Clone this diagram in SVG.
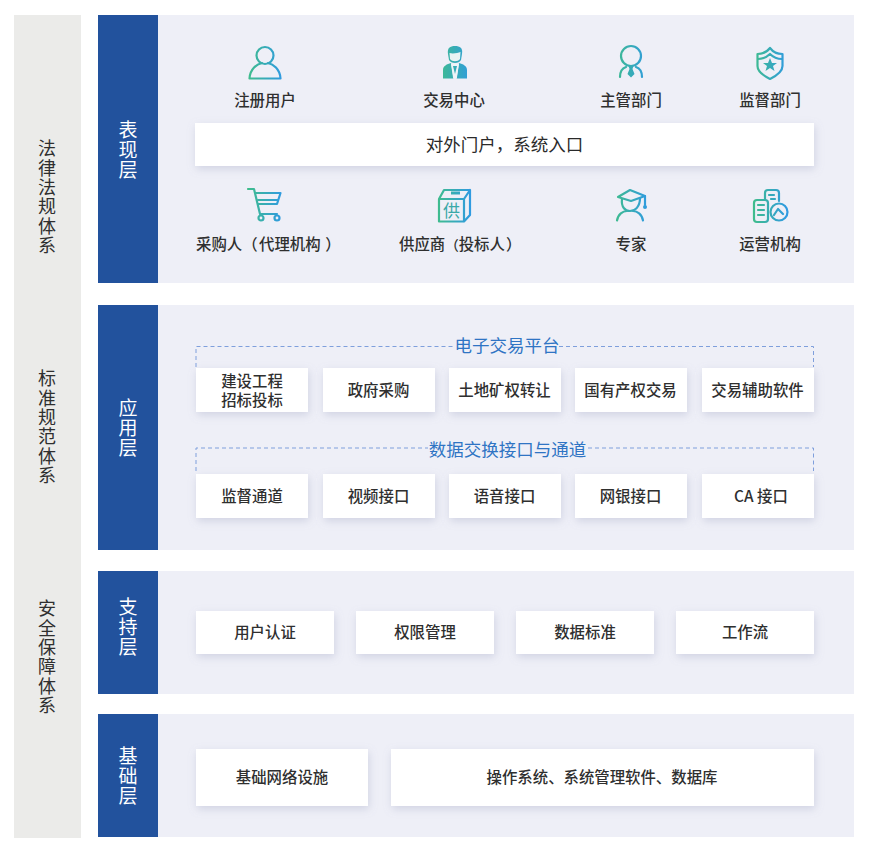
<svg xmlns="http://www.w3.org/2000/svg" width="871" height="853" viewBox="0 0 871 853">
<defs>
<linearGradient id="igu" gradientUnits="userSpaceOnUse" x1="-17" y1="0" x2="17" y2="0"><stop offset="0" stop-color="#3fbd8b"/><stop offset="1" stop-color="#2f9ae2"/></linearGradient>
<filter id="sh" x="-15%" y="-30%" width="130%" height="170%"><feDropShadow dx="1" dy="3" stdDeviation="4" flood-color="#8f96b8" flood-opacity=".32"/></filter>
</defs>
<style>
text{font-family:"Noto Sans CJK SC","Noto Sans",sans-serif;text-anchor:middle}
.panel{fill:#eeeff7}.band{fill:#22529d}.side{fill:#ebebe9}
.box{fill:#fff;filter:url(#sh)}
.lb{font-size:15.4px;font-weight:500;fill:#2f2f2f}
.bt{font-size:19px;fill:#fff;writing-mode:vertical-rl;letter-spacing:1px}
.st{font-size:18px;fill:#2f2f2f;writing-mode:vertical-rl;letter-spacing:1.4px}
.pt{font-size:17.500px;fill:#2f74c4}
.dash{fill:none;stroke:#7f9fdc;stroke-width:1;stroke-dasharray:4 3}
.ic{fill:none;stroke:url(#igu);stroke-width:2.2;stroke-linecap:round;stroke-linejoin:round}
.if{fill:url(#igu)}
</style>
<rect id="bg" width="871" height="853" fill="#fff"/>
<g id="side-col"><rect class="side" x="14" y="15" width="67" height="823"/>
<text class="st" x="47" y="197.500">法律法规体系</text>
<text class="st" x="47" y="427.500">标准规范体系</text>
<text class="st" x="47" y="657.500">安全保障体系</text>
</g>
<g id="layer-presentation"><rect class="panel" x="158" y="15" width="696" height="268"/><rect class="band" x="98" y="15" width="60" height="268"/>
<text class="bt" x="128" y="150.500">表现层</text></g>
<g id="layer-application"><rect class="panel" x="158" y="305" width="696" height="245"/><rect class="band" x="98" y="305" width="60" height="245"/>
<text class="bt" x="128" y="428.500">应用层</text></g>
<g id="layer-support"><rect class="panel" x="158" y="571" width="696" height="123"/><rect class="band" x="98" y="571" width="60" height="123"/>
<text class="bt" x="128" y="627.500">支持层</text></g>
<g id="layer-base"><rect class="panel" x="158" y="714" width="696" height="123"/><rect class="band" x="98" y="714" width="60" height="123"/>
<text class="bt" x="128" y="776.500">基础层</text></g>

<g id="connectors">
<path class="dash" d="M196 367V346.500H454M559 346.500H813.500V367"/>
<path class="dash" d="M196 471V448H428M588 448H813.500V471"/>
</g>

<g id="portal"><rect class="box" x="195" y="123" width="619" height="43"/><text x="504.500" y="151" font-size="17.500" fill="#2a2a2a">对外门户，系统入口</text></g>

<g id="user"><g transform="translate(265,63)"><circle class="ic" cx="0" cy="-7.500" r="8.500"/><path class="ic" d="M-15.500 15.500C-15 6-8 1-3 0M3 0C8 1 15 6 15.500 15.500H-15.500"/></g><text class="lb" x="265" y="106">注册用户</text></g>
<g id="center"><g transform="translate(455,63)"><path class="if" d="M-7-9C-8-15-5-17 0-17S8-15 7-9L6-3C4 1-4 1-6-3Z"/><path d="M-5.500-10C-2-9 3-10 5.500-11L5-4C3-1-3-1-5-4Z" fill="#e8f3f3"/><path class="if" d="M-12 15.500V7C-12 3-8 1-4 0L-1.500 15.500ZM12 15.500V7C12 3 8 1 4 0L1.500 15.500Z"/><path d="M-4 1H4L1.800 15.500H-1.800Z" fill="#eef4f8"/><path class="if" d="M-2 3H2L0 11Z"/></g><text class="lb" x="454" y="106">交易中心</text></g>
<g id="authority"><g transform="translate(631,62)"><circle class="ic" cx="0" cy="-6" r="10"/><path class="ic" d="M-11 15C-11 9-8 6-5 5M11 15C11 9 8 6 5 5"/><path class="if" d="M-2.500 4H2.500L1.500 7 3.500 12 0 15.500-3.500 12-1.500 7Z"/></g><text class="lb" x="631" y="106">主管部门</text></g>
<g id="supervision"><g transform="translate(770,63)"><path class="ic" d="M-12.500-9C-7-9-3-11 0-15 3-11 7-9 12.500-9V3C12.500 9 6 13 0 16-6 13-12.500 9-12.500 3Z"/><path class="ic" stroke-width="1.500" d="M-12-4C-7-4-3-6 0-9 3-6 7-4 12-4"/><path class="if" d="M0-5 2 0H7L3 3 4.500 8 0 5-4.500 8-3 3-7 0H-2Z"/></g><text class="lb" x="770" y="106">监督部门</text></g>

<g id="buyer"><g transform="translate(265,205)"><path class="ic" d="M-17-16H-11L-5 9H12"/><path class="ic" d="M-9-12H15.500L12-1H-6.500M-7-5H13"/><circle class="ic" cx="-4" cy="13" r="2.500"/><circle class="ic" cx="12" cy="13" r="2.500"/></g><text class="lb" x="196" y="250" style="text-anchor:start">采购人（<tspan dx="1.500">代理机构</tspan><tspan dx="4.500">）</tspan></text></g>
<g id="supplier"><g transform="translate(454,206)"><path class="ic" d="M-15-7H10V15.500H-15ZM-15-7-10-16H16V9L10 15.500M10-7 16-16"/><path stroke="url(#igu)" stroke-width="3" fill="none" d="M-3-13H6"/><text y="11" x="-2.500" font-size="17" fill="#3aa9a8">供</text></g><text class="lb" x="399" y="250" style="text-anchor:start">供应商<tspan font-size="13.500">（</tspan>投标人<tspan dx="1">）</tspan></text></g>
<g id="expert"><g transform="translate(631,205)"><path class="ic" d="M-13-8-1-15 14-9 0-4Z"/><path class="ic" d="M-9-6C-10 2-6 6-1 6S9 2 9-7"/><path class="ic" stroke-width="1.500" d="M-14 15.500C-13 9-8 6-4 6M12 15.500C11 9 6 6 2 6M14-9V0"/><circle class="if" cx="14" cy="2" r="2"/></g><text class="lb" x="631" y="250">专家</text></g>
<g id="operator"><g transform="translate(770,206)"><rect class="ic" x="-16" y="-6" width="14" height="22" rx="3"/><path class="ic" d="M-5-6V-13C-5-15-4-16-2-16H6C8-16 9-15 9-13V-5"/><circle class="ic" cx="9" cy="6" r="8.500"/><path class="ic" stroke-width="1.500" d="M-12-1H-6M-12 4H-6M-12 9H-6M-1-11H4M1-7H5M4 9 8 3 13 8"/></g><text class="lb" x="770" y="250">运营机构</text></g>

<g id="platform-title"><text class="pt" x="507" y="352">电子交易平台</text></g>
<g id="n1"><rect class="box" x="196" y="368" width="112" height="44"/><text class="lb" x="252" y="387">建设工程<tspan x="252" dy="19">招标投标</tspan></text></g>
<g id="n2"><rect class="box" x="323" y="368" width="112" height="44"/><text class="lb" x="378.500" y="396">政府采购</text></g>
<g id="n3"><rect class="box" x="449" y="368" width="112" height="44"/><text class="lb" x="504.500" y="396">土地矿权转让</text></g>
<g id="n4"><rect class="box" x="575" y="368" width="112" height="44"/><text class="lb" x="630.500" y="396">国有产权交易</text></g>
<g id="n5"><rect class="box" x="702" y="368" width="112" height="44"/><text class="lb" x="757.500" y="396">交易辅助软件</text></g>

<g id="exchange-title"><text class="pt" x="507.500" y="456">数据交换接口与通道</text></g>
<g id="n6"><rect class="box" x="196" y="474" width="112" height="44"/><text class="lb" x="252" y="502">监督通道</text></g>
<g id="n7"><rect class="box" x="323" y="474" width="112" height="44"/><text class="lb" x="378.500" y="502">视频接口</text></g>
<g id="n8"><rect class="box" x="449" y="474" width="112" height="44"/><text class="lb" x="504.500" y="502">语音接口</text></g>
<g id="n9"><rect class="box" x="575" y="474" width="112" height="44"/><text class="lb" x="630.500" y="502">网银接口</text></g>
<g id="n10"><rect class="box" x="702" y="474" width="112" height="44"/><text class="lb" x="761" y="502">CA 接口</text></g>

<g id="s1"><rect class="box" x="196" y="611" width="138" height="43"/><text class="lb" x="265" y="638">用户认证</text></g>
<g id="s2"><rect class="box" x="356" y="611" width="138" height="43"/><text class="lb" x="425" y="638">权限管理</text></g>
<g id="s3"><rect class="box" x="516" y="611" width="138" height="43"/><text class="lb" x="585" y="638">数据标准</text></g>
<g id="s4"><rect class="box" x="676" y="611" width="138" height="43"/><text class="lb" x="745" y="638">工作流</text></g>

<g id="b1"><rect class="box" x="196" y="749" width="172" height="57"/><text class="lb" x="282" y="783">基础网络设施</text></g>
<g id="b2"><rect class="box" x="391" y="749" width="423" height="57"/><text class="lb" x="602" y="783">操作系统、系统管理软件、数据库</text></g>
</svg>
